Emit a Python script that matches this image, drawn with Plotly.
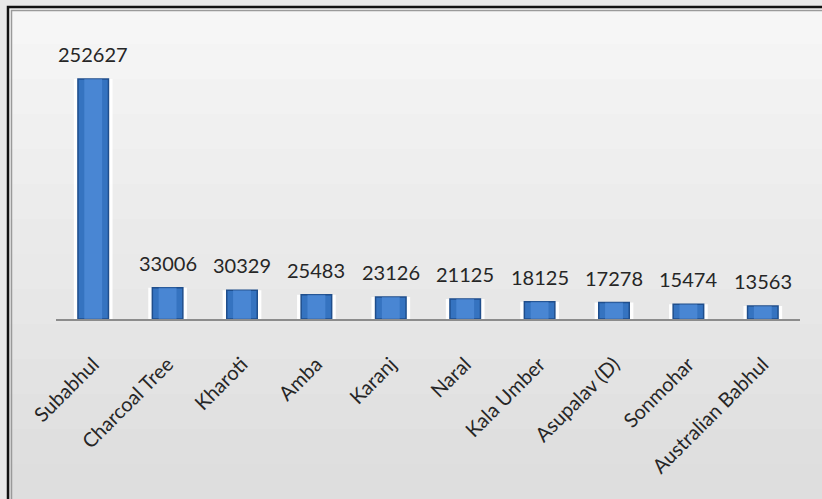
import plotly.graph_objects as go

categories = ["Subabhul", "Charcoal Tree", "Kharoti", "Amba", "Karanj", "Naral",
              "Kala Umber", "Asupalav (D)", "Sonmohar", "Australian Babhul"]
values = [252627, 33006, 30329, 25483, 23126, 21125, 18125, 17278, 15474, 13563]
value_labels = [str(v) for v in values]

W, H = 822, 499
L, R, T, B = 56, 22, 40, 180
pw, ph = W - L - R, H - T - B

def px(x):
    return (x - L) / pw

def py(y):
    return (H - B - y) / ph

fig = go.Figure()

# white halo behind bars
fig.add_trace(go.Bar(x=categories, y=values, width=0.52,
                     marker=dict(color="rgba(255,255,255,0.95)", line=dict(width=0)),
                     hoverinfo="skip", showlegend=False))
# blue bars
fig.add_trace(go.Bar(x=categories, y=values, width=0.41,
                     marker=dict(color="#3573C0", line=dict(color="#1F4E8C", width=1.5)),
                     showlegend=False))
# lighter centre highlight
fig.add_trace(go.Bar(x=categories, y=values, width=0.24,
                     marker=dict(color="rgba(90,150,225,0.55)", line=dict(width=0)),
                     hoverinfo="skip", showlegend=False))

for c, v, t in zip(categories, values, value_labels):
    fig.add_annotation(x=c, y=v, text=t, showarrow=False, yanchor="bottom", yshift=11,
                       font=dict(family="Lato", size=20, color="#262626"))

shapes = []
# background gradient bands inside frame
n = 14
top, bot = 9, 499
for i in range(n):
    y0 = top + (bot - top) * i / n
    y1 = top + (bot - top) * (i + 1) / n
    g = int(246 - 24 * i / (n - 1))
    shapes.append(dict(type="rect", xref="paper", yref="paper", layer="below",
                       x0=px(9), x1=px(822), y0=py(y1), y1=py(y0),
                       fillcolor=f"rgb({g},{g},{g})", line=dict(width=0)))
# frame lines
shapes.append(dict(type="path", xref="paper", yref="paper",
                   path=f"M {px(8)} {py(505)} L {px(8)} {py(7)} L {px(830)} {py(7)}",
                   line=dict(color="#111111", width=2.5)))
shapes.append(dict(type="path", xref="paper", yref="paper",
                   path=f"M {px(11.5)} {py(505)} L {px(11.5)} {py(10.5)} L {px(830)} {py(10.5)}",
                   line=dict(color="#9a9a9a", width=1.5)))

fig.update_layout(
    width=W, height=H,
    margin=dict(l=L, r=R, t=T, b=B, autoexpand=False),
    paper_bgcolor="#E8E8E8",
    plot_bgcolor="rgba(0,0,0,0)",
    barmode="overlay",
    shapes=shapes,
    xaxis=dict(showline=True, linecolor="#8C8C8C", linewidth=1.5, showgrid=False,
               tickangle=-45, ticks="", ticklabelstandoff=24,
               tickfont=dict(family="Lato", size=20, color="#262626"),
               range=[-0.5, 9.5]),
    yaxis=dict(visible=False, range=[0, 252627 * ph / 240], showgrid=False),
    font=dict(family="Lato"),
)

fig.write_html("out.html", config={"displayModeBar": False},
               post_script="document.body.style.margin='0px';")
